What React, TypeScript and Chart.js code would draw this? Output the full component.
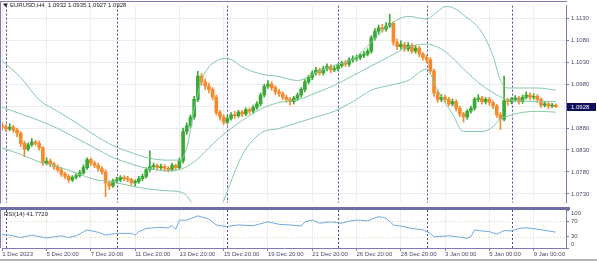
import React, { useEffect, useRef } from 'react';
import { Chart, registerables } from 'chart.js';

Chart.register(...registerables);

// ---------- data (H4 bars, index 0 = 1 Dec 2023 20:00) ----------
const opens = [
  1.0885, 1.0882, 1.0878, 1.0882, 1.0875, 1.0868, 1.0845, 1.0832, 1.0842, 1.0848,
  1.0845, 1.0835, 1.0800, 1.0805, 1.0798, 1.0792, 1.0785, 1.0775, 1.0770, 1.0762,
  1.0768, 1.0772, 1.0778, 1.0790, 1.0808, 1.0800, 1.0795, 1.0788, 1.0780, 1.0755,
  1.0748, 1.0760, 1.0762, 1.0768, 1.0765, 1.0763, 1.0755, 1.0758, 1.0765, 1.0770,
  1.0785, 1.0792, 1.0795, 1.0790, 1.0792, 1.0788, 1.0786, 1.0795, 1.0790, 1.0805,
  1.0872, 1.0885, 1.0905, 1.0945, 1.0998, 1.0985, 1.0975, 1.0968, 1.0950, 1.0915,
  1.0905, 1.0893, 1.0902, 1.0910, 1.0908, 1.0916, 1.0912, 1.0922, 1.0918, 1.0927,
  1.0935, 1.0955, 1.0975, 1.0980, 1.0972, 1.0962, 1.0958, 1.0950, 1.0945, 1.0940,
  1.0948, 1.0955, 1.0968, 1.0985, 1.0995, 1.1005, 1.1012, 1.1005, 1.1015, 1.1020,
  1.1012, 1.1015, 1.1022, 1.1028, 1.1025, 1.1035, 1.1038, 1.1040, 1.1045, 1.1048,
  1.1055, 1.1085, 1.1100, 1.1108, 1.1105, 1.1112, 1.1118, 1.1075, 1.1065, 1.1070,
  1.1060, 1.1068, 1.1055, 1.1062, 1.1048, 1.1040, 1.1035, 1.1010, 1.0960, 1.0945,
  1.0950, 1.0945, 1.0935, 1.0940, 1.0925, 1.0912, 1.0905, 1.0918, 1.0925, 1.0945,
  1.0948, 1.0940, 1.0945, 1.0938, 1.0930, 1.0910, 1.0900, 1.0942, 1.0940, 1.0945,
  1.0948, 1.0940, 1.0950, 1.0955, 1.0950, 1.0952, 1.0945, 1.0932, 1.0935, 1.0930,
  1.0932,
];
const highs = [
  1.0892, 1.0888, 1.0890, 1.0886, 1.0880, 1.0872, 1.0850, 1.0846, 1.0856, 1.0852,
  1.0850, 1.0838, 1.0812, 1.0810, 1.0802, 1.0796, 1.0790, 1.0780, 1.0774, 1.0772,
  1.0776, 1.0784, 1.0796, 1.0812, 1.0812, 1.0805, 1.0800, 1.0792, 1.0785, 1.0760,
  1.0764, 1.0768, 1.0772, 1.0772, 1.0770, 1.0766, 1.0762, 1.0770, 1.0775, 1.0790,
  1.0828, 1.0800, 1.0798, 1.0798, 1.0796, 1.0792, 1.0800, 1.0798, 1.0812, 1.0880,
  1.0892, 1.0910, 1.0952, 1.1009, 1.1004, 1.0992, 1.0982, 1.0972, 1.0955, 1.0920,
  1.0910, 1.0908, 1.0915, 1.0918, 1.0920, 1.0920, 1.0926, 1.0926, 1.0932, 1.0940,
  1.0960, 1.0980, 1.0988, 1.0985, 1.0976, 1.0968, 1.0962, 1.0955, 1.0950, 1.0952,
  1.0960, 1.0972, 1.0990, 1.1000, 1.1010, 1.1018, 1.1016, 1.1020, 1.1026, 1.1024,
  1.1020, 1.1026, 1.1032, 1.1034, 1.1040, 1.1044, 1.1046, 1.1050, 1.1054, 1.1060,
  1.1090, 1.1106, 1.1114, 1.1116, 1.1120, 1.1139, 1.1122, 1.1082, 1.1078, 1.1075,
  1.1074, 1.1072, 1.1068, 1.1066, 1.1052, 1.1046, 1.1040, 1.1014, 1.0966, 1.0956,
  1.0955, 1.0950, 1.0946, 1.0944, 1.0930, 1.0916, 1.0922, 1.0930, 1.0950, 1.0956,
  1.0952, 1.0950, 1.0950, 1.0942, 1.0934, 1.0915, 1.0998, 1.0948, 1.0950, 1.0954,
  1.0952, 1.0955, 1.0962, 1.0960, 1.0958, 1.0956, 1.0948, 1.0940, 1.0938, 1.0936,
  1.0935,
];
const lows = [
  1.0876, 1.0872, 1.0874, 1.0870, 1.0860, 1.0838, 1.0815, 1.0828, 1.0838, 1.0840,
  1.0830, 1.0795, 1.0796, 1.0792, 1.0786, 1.0780, 1.0770, 1.0764, 1.0756, 1.0758,
  1.0764, 1.0768, 1.0775, 1.0786, 1.0795, 1.0790, 1.0782, 1.0775, 1.0724, 1.0740,
  1.0745, 1.0755, 1.0758, 1.0760, 1.0758, 1.0750, 1.0748, 1.0754, 1.0760, 1.0766,
  1.0780, 1.0786, 1.0784, 1.0785, 1.0782, 1.0780, 1.0782, 1.0784, 1.0786, 1.0800,
  1.0866, 1.0880, 1.0900, 1.0940, 1.0978, 1.0968, 1.0960, 1.0944, 1.0910, 1.0898,
  1.0888, 1.0889, 1.0898, 1.0902, 1.0904, 1.0906, 1.0908, 1.0912, 1.0914, 1.0922,
  1.0930, 1.0950, 1.0970, 1.0966, 1.0956, 1.0952, 1.0944, 1.0938, 1.0932, 1.0935,
  1.0942, 1.0950, 1.0962, 1.0980, 1.0990, 1.1000, 1.1000, 1.1000, 1.1010, 1.1006,
  1.1008, 1.1010, 1.1018, 1.1020, 1.1020, 1.1030, 1.1032, 1.1035, 1.1040, 1.1044,
  1.1050, 1.1080, 1.1094, 1.1098, 1.1100, 1.1108, 1.1068, 1.1058, 1.1060, 1.1054,
  1.1055, 1.1050, 1.1050, 1.1042, 1.1034, 1.1028, 1.1004, 1.0952, 1.0938, 1.0940,
  1.0938, 1.0930, 1.0930, 1.0918, 1.0906, 1.0893, 1.0900, 1.0914, 1.0920, 1.0940,
  1.0934, 1.0935, 1.0932, 1.0924, 1.0904, 1.0877, 1.0896, 1.0932, 1.0935, 1.0940,
  1.0934, 1.0936, 1.0946, 1.0944, 1.0945, 1.0938, 1.0926, 1.0928, 1.0924, 1.0926,
  1.0927,
];
const closes = [
  1.0882, 1.0878, 1.0882, 1.0875, 1.0868, 1.0845, 1.0832, 1.0842, 1.0848, 1.0845,
  1.0835, 1.0800, 1.0805, 1.0798, 1.0792, 1.0785, 1.0775, 1.0770, 1.0762, 1.0768,
  1.0772, 1.0778, 1.0790, 1.0808, 1.0800, 1.0795, 1.0788, 1.0780, 1.0755, 1.0748,
  1.0760, 1.0762, 1.0768, 1.0765, 1.0763, 1.0755, 1.0758, 1.0765, 1.0770, 1.0785,
  1.0792, 1.0795, 1.0790, 1.0792, 1.0788, 1.0786, 1.0795, 1.0790, 1.0805, 1.0872,
  1.0885, 1.0905, 1.0945, 1.0998, 1.0985, 1.0975, 1.0968, 1.0950, 1.0915, 1.0905,
  1.0893, 1.0902, 1.0910, 1.0908, 1.0916, 1.0912, 1.0922, 1.0918, 1.0927, 1.0935,
  1.0955, 1.0975, 1.0980, 1.0972, 1.0962, 1.0958, 1.0950, 1.0945, 1.0940, 1.0948,
  1.0955, 1.0968, 1.0985, 1.0995, 1.1005, 1.1012, 1.1005, 1.1015, 1.1020, 1.1012,
  1.1015, 1.1022, 1.1028, 1.1025, 1.1035, 1.1038, 1.1040, 1.1045, 1.1048, 1.1055,
  1.1085, 1.1100, 1.1108, 1.1105, 1.1112, 1.1118, 1.1075, 1.1065, 1.1070, 1.1060,
  1.1068, 1.1055, 1.1062, 1.1048, 1.1040, 1.1035, 1.1010, 1.0960, 1.0945, 1.0950,
  1.0945, 1.0935, 1.0940, 1.0925, 1.0912, 1.0905, 1.0918, 1.0925, 1.0945, 1.0948,
  1.0940, 1.0945, 1.0938, 1.0930, 1.0910, 1.0900, 1.0942, 1.0940, 1.0945, 1.0948,
  1.0940, 1.0950, 1.0955, 1.0950, 1.0952, 1.0945, 1.0932, 1.0935, 1.0930, 1.0932,
  1.0928,
];

const bandIdx = [0, 5, 10, 15, 20, 25, 30, 35, 40, 45, 48, 50, 52, 54, 56, 58, 60, 62, 65, 70,
  75, 80, 85, 90, 95, 100, 105, 110, 115, 118, 120, 122, 125, 130, 133, 135, 137, 140, 145, 150];
const bandUpper = [1.1032, 1.0995, 1.0944, 1.0918, 1.0892, 1.0864, 1.0840, 1.0824, 1.0811, 1.0807,
  1.0807, 1.0835, 1.0923, 1.0988, 1.1019, 1.1032, 1.1038, 1.1036, 1.1019, 1.1003,
  1.0997, 1.0988, 1.1006, 1.1023, 1.1036, 1.1075, 1.1115, 1.1134, 1.1128, 1.1145,
  1.1156, 1.1154, 1.1137, 1.1097, 1.1043, 1.0988, 1.0971, 1.0971, 1.0971, 1.0966];
const bandMiddle = [1.0927, 1.0912, 1.0897, 1.0879, 1.0857, 1.0835, 1.0813, 1.0798, 1.0787, 1.0783,
  1.0785, 1.0792, 1.0803, 1.0818, 1.0835, 1.0851, 1.0866, 1.0879, 1.0897, 1.0923,
  1.0938, 1.0944, 1.0960, 1.0977, 1.0999, 1.1021, 1.1043, 1.1064, 1.1071, 1.1064,
  1.1054, 1.1040, 1.1014, 1.0977, 1.0960, 1.0951, 1.0944, 1.0942, 1.0940, 1.0940];
const bandLower = [1.0835, 1.0820, 1.0803, 1.0792, 1.0778, 1.0763, 1.0757, 1.0748, 1.0741, 1.0737,
  1.0735, 1.0726, 1.0700, 1.0678, 1.0671, 1.0687, 1.0715, 1.0759, 1.0818, 1.0868,
  1.0879, 1.0892, 1.0905, 1.0918, 1.0940, 1.0966, 1.0977, 1.0988, 1.1014, 1.0966,
  1.0938, 1.0912, 1.0872, 1.0872, 1.0883, 1.0901, 1.0907, 1.0914, 1.0918, 1.0916];

const rsiIdx = [0, 2, 5, 8, 12, 16, 18, 20, 23, 26, 28, 31, 35, 36, 37, 39, 42, 45, 46, 47,
  48, 50, 53, 56, 58, 61, 62, 64, 68, 72, 75, 78, 81, 82, 84, 86, 89, 92, 94, 96,
  99, 102, 103, 104, 106, 108, 111, 114, 116, 117, 121, 124, 126, 127, 128, 130, 132, 134, 136, 138,
  140, 142, 145, 148, 150];
const rsiVals = [35.7, 33.9, 27.4, 33.9, 26.5, 32, 27.4, 32, 47.7, 41.2, 33.9, 38.5, 38.5, 33.9, 43.1, 51.4, 54.1, 53.2, 58.7, 49.5,
  73.4, 73.4, 84.5, 76.2, 60.6, 56, 58.7, 60.6, 58.7, 68.8, 62.4, 60.6, 57.8, 68.8, 73.4, 65.2, 68.8, 65.2, 70.7, 73.4,
  71.6, 82.6, 80.8, 78, 60.6, 57.8, 51.4, 47.7, 38.5, 29.3, 32, 28.4, 25.6, 29.3, 47.7, 44.9, 43.1, 36.6, 45.8, 44.9,
  51.4, 53.2, 49.5, 44.9, 41.772];

const priceTicks = [1.073, 1.078, 1.083, 1.088, 1.093, 1.098, 1.103, 1.108, 1.113];
const rsiTicks = [100, 70, 30, 0];
const rsiLevels = [70, 30];
const timeTickIdx = [0, 12, 24, 36, 48, 60, 72, 84, 96, 108, 120, 132, 144];
const timeTickLabels = ['1 Dec 2023', '5 Dec 20:00', '7 Dec 20:00', '11 Dec 20:00', '13 Dec 20:00',
  '15 Dec 20:00', '19 Dec 20:00', '21 Dec 20:00', '26 Dec 20:00', '28 Dec 20:00', '3 Jan 00:00',
  '5 Jan 00:00', '9 Jan 00:00'];
const weekStartIdx = [1, 31, 61, 91, 115, 138];
const symbolName = 'EURUSD,H4';
const rsiName = 'RSI(14)';

// ---------- view settings ----------
const X_MIN = -0.08;
const X_MAX = 152.77;
const PRICE_MIN = 1.07108;
const PRICE_MAX = 1.115838;
const RSI_MIN = 0;
const RSI_MAX = 100;

const FONT = "'Liberation Sans', Arial, sans-serif";
const BULL = '#3aa935';
const BEAR = '#f48a2b';
const BAND = '#86c8a6';
const GRID = '#ececf1';
const FRAME = '#7b7bb8';
const TEXT = '#4a4a6a';
const SEP = '#4a4a98';
const THICK = '#6f6fa8';
const RSI_COLOR = '#72a9dd';
const LEVEL = '#d8d8a8';

const last = closes.length - 1;
const candleColor = (i: number) => (closes[i] >= opens[i] ? BULL : BEAR);

function drawWeekSeps(chart: any) {
  const { ctx, chartArea } = chart;
  const xs = chart.scales.x;
  ctx.save();
  ctx.strokeStyle = SEP;
  ctx.lineWidth = 1;
  ctx.setLineDash([2, 2]);
  for (const w of weekStartIdx) {
    const x = Math.round(xs.getPixelForValue(w)) + 0.5;
    ctx.beginPath();
    ctx.moveTo(x, chartArea.top);
    ctx.lineTo(x, chartArea.bottom);
    ctx.stroke();
  }
  ctx.restore();
}

export default function App() {
  const mainRef = useRef<HTMLCanvasElement>(null);
  const rsiRef = useRef<HTMLCanvasElement>(null);

  useEffect(() => {
    const mainOverlay = {
      id: 'mainOverlay',
      beforeDatasetsDraw(chart: any) {
        drawWeekSeps(chart);
      },
      afterDraw(chart: any) {
        const { ctx, chartArea } = chart;
        const ys = chart.scales.y;
        ctx.save();
        ctx.fillStyle = FRAME;
        ctx.fillRect(0, 1, chartArea.right + 1, 1);
        ctx.fillRect(0, 1, 1, chartArea.bottom);
        ctx.fillStyle = THICK;
        ctx.fillRect(0, 207, chartArea.right + 4, 1);
        // title
        ctx.fillStyle = '#222';
        ctx.beginPath();
        ctx.moveTo(3, 3.5);
        ctx.lineTo(8, 3.5);
        ctx.lineTo(5.5, 7);
        ctx.closePath();
        ctx.fill();
        ctx.font = `6px ${FONT}`;
        ctx.textBaseline = 'middle';
        ctx.textAlign = 'left';
        const ohlc = [opens[last], highs[last], lows[last], closes[last]].map((v) => v.toFixed(4)).join(' ');
        ctx.fillText(`${symbolName}  ${ohlc}`, 10, 5.5);
        // last price box
        const yp = ys.getPixelForValue(closes[last]);
        ctx.fillStyle = '#10105a';
        ctx.fillRect(chartArea.right + 1, Math.round(yp) - 4, 29, 8);
        ctx.fillStyle = '#ffffff';
        ctx.fillText(closes[last].toFixed(4), chartArea.right + 5, Math.round(yp));
        ctx.restore();
      },
    };

    const rsiOverlay = {
      id: 'rsiOverlay',
      beforeDatasetsDraw(chart: any) {
        const { ctx, chartArea } = chart;
        const ys = chart.scales.y;
        ctx.save();
        ctx.strokeStyle = LEVEL;
        ctx.lineWidth = 1;
        ctx.setLineDash([1, 2]);
        for (const lv of rsiLevels) {
          const y = Math.round(ys.getPixelForValue(lv)) + 0.5;
          ctx.beginPath();
          ctx.moveTo(chartArea.left, y);
          ctx.lineTo(chartArea.right, y);
          ctx.stroke();
        }
        ctx.restore();
        drawWeekSeps(chart);
      },
      afterDraw(chart: any) {
        const { ctx, chartArea } = chart;
        const ys = chart.scales.y;
        ctx.save();
        ctx.fillStyle = THICK;
        ctx.fillRect(0, 0, chartArea.right + 4, 2);
        ctx.fillStyle = FRAME;
        ctx.fillRect(0, 0, 1, chartArea.bottom);
        ctx.font = `6px ${FONT}`;
        ctx.textBaseline = 'middle';
        ctx.textAlign = 'left';
        // RSI scale labels, kept inside the pane like the terminal does
        ctx.fillStyle = TEXT;
        for (const t of rsiTicks) {
          const py = ys.getPixelForValue(t);
          const y = Math.min(Math.max(py, chartArea.top + 3.5), chartArea.bottom - 3.5);
          ctx.fillText(String(t), chartArea.right + 5, y);
        }
        ctx.fillStyle = '#222';
        ctx.fillText(`${rsiName} ${rsiVals[rsiVals.length - 1].toFixed(4)}`, 4, 6);
        ctx.fillStyle = '#b4b4b4';
        ctx.fillRect(0, 51, 597, 2);
        ctx.restore();
      },
    };

    const main = new Chart(mainRef.current as HTMLCanvasElement, {
      type: 'bar',
      data: {
        datasets: [
          {
            type: 'line',
            data: bandIdx.map((x, k) => ({ x, y: bandUpper[k] })),
            borderColor: BAND,
            borderWidth: 1,
            pointRadius: 0,
            cubicInterpolationMode: 'monotone',
            order: 0,
          } as any,
          {
            type: 'line',
            data: bandIdx.map((x, k) => ({ x, y: bandMiddle[k] })),
            borderColor: BAND,
            borderWidth: 1,
            pointRadius: 0,
            cubicInterpolationMode: 'monotone',
            order: 0,
          } as any,
          {
            type: 'line',
            data: bandIdx.map((x, k) => ({ x, y: bandLower[k] })),
            borderColor: BAND,
            borderWidth: 1,
            pointRadius: 0,
            cubicInterpolationMode: 'monotone',
            order: 0,
          } as any,
          {
            type: 'bar',
            data: closes.map((c, i) => ({ x: i, y: [opens[i], c] })),
            backgroundColor: (c: any) => candleColor(c.dataIndex),
            borderWidth: 0,
            barThickness: 3,
            minBarLength: 1,
            grouped: false,
            order: 1,
          } as any,
          {
            type: 'bar',
            data: closes.map((_c, i) => ({ x: i, y: [lows[i], highs[i]] })),
            backgroundColor: (c: any) => candleColor(c.dataIndex),
            borderWidth: 0,
            barThickness: 1,
            grouped: false,
            order: 2,
          } as any,
        ],
      },
      options: {
        animation: false,
        responsive: false,
        maintainAspectRatio: false,
        layout: { padding: { left: 2, top: 2, right: 0, bottom: 1 } },
        plugins: { legend: { display: false }, tooltip: { enabled: false } },
        scales: {
          x: {
            type: 'linear',
            min: X_MIN,
            max: X_MAX,
            offset: false,
            grid: { color: GRID, drawTicks: false, offset: false },
            border: { display: false },
            ticks: { display: false },
            afterBuildTicks: (s: any) => {
              s.ticks = timeTickIdx.map((v) => ({ value: v }));
            },
          },
          y: {
            position: 'right',
            min: PRICE_MIN,
            max: PRICE_MAX,
            afterFit: (s: any) => {
              s.width = 31;
            },
            afterBuildTicks: (s: any) => {
              s.ticks = priceTicks.map((v) => ({ value: v }));
            },
            ticks: {
              callback: (v: any) => Number(v).toFixed(4),
              font: { family: FONT, size: 6 },
              color: TEXT,
              padding: 2,
            },
            grid: { color: GRID, tickColor: FRAME, tickLength: 3 },
            border: { color: FRAME },
          },
        },
      } as any,
      plugins: [mainOverlay],
    });

    const rsi = new Chart(rsiRef.current as HTMLCanvasElement, {
      type: 'line',
      data: {
        datasets: [
          {
            data: rsiIdx.map((x, k) => ({ x, y: rsiVals[k] })),
            borderColor: RSI_COLOR,
            borderWidth: 1,
            pointRadius: 0,
            tension: 0,
          },
        ],
      },
      options: {
        animation: false,
        responsive: false,
        maintainAspectRatio: false,
        layout: { padding: { left: 2, top: 2, right: 0, bottom: 0 } },
        plugins: { legend: { display: false }, tooltip: { enabled: false } },
        scales: {
          x: {
            type: 'linear',
            min: X_MIN,
            max: X_MAX,
            offset: false,
            afterFit: (s: any) => {
              s.height = 13;
            },
            afterBuildTicks: (s: any) => {
              s.ticks = timeTickIdx.map((v) => ({ value: v }));
            },
            ticks: {
              autoSkip: false,
              maxRotation: 0,
              align: 'start',
              callback: (_v: any, i: number) => timeTickLabels[i],
              font: { family: FONT, size: 6 },
              color: TEXT,
              padding: 0,
            },
            grid: { color: GRID, tickColor: FRAME, tickLength: 3 },
            border: { color: FRAME },
          },
          y: {
            position: 'right',
            min: RSI_MIN,
            max: RSI_MAX,
            afterFit: (s: any) => {
              s.width = 31;
            },
            afterBuildTicks: (s: any) => {
              s.ticks = rsiTicks.map((v) => ({ value: v }));
            },
            ticks: { display: false },
            grid: { drawOnChartArea: false, tickColor: FRAME, tickLength: 3 },
            border: { color: FRAME },
          },
        },
      } as any,
      plugins: [rsiOverlay],
    });

    return () => {
      main.destroy();
      rsi.destroy();
    };
  }, []);

  return (
    <div style={{ position: 'absolute', left: 0, top: 0, width: 597, height: 261, background: '#ffffff' }}>
      <canvas ref={mainRef} width={597} height={208} style={{ display: 'block', width: 597, height: 208 }} />
      <canvas ref={rsiRef} width={597} height={53} style={{ display: 'block', width: 597, height: 53 }} />
    </div>
  );
}
